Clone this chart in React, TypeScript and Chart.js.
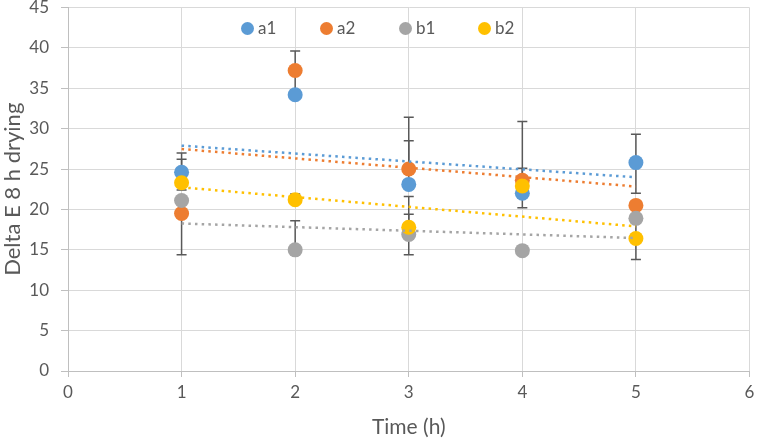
import React, { useEffect, useRef } from "react";
import { Chart, registerables } from "chart.js";

Chart.register(...registerables);

// ---- Data ----
const times = [1, 2, 3, 4, 5];
const seriesNames = ["a1", "a2", "b1", "b2"];
const a1 = [24.6, 34.2, 23.1, 22.0, 25.8];
const a2 = [19.5, 37.2, 25.0, 23.6, 20.5];
const b1 = [21.1, 15.0, 16.9, 14.9, 18.9];
const b2 = [23.3, 21.2, 17.8, 22.9, 16.4];
// error bar extents (plus / minus), 0 = not drawn / hidden
const a1Plus = [2.4, 0, 5.4, 0, 3.5];
const a1Minus = [2.2, 0, 0, 1.8, 3.8];
const a2Plus = [0, 2.4, 6.4, 7.3, 0];
const a2Minus = [5.1, 2.4, 0, 0, 0];
const b1Plus = [0, 3.6, 2.5, 0, 0];
const b1Minus = [0, 0, 0, 0, 0];
const b2Plus = [2.9, 0.7, 3.8, 2.2, 2.6];
const b2Minus = [0, 0, 3.4, 0, 2.6];
const seriesColors = ["#5B9BD5", "#ED7D31", "#A5A5A5", "#FFC000"];
const xTicks = [0, 1, 2, 3, 4, 5, 6];
const yTicks = [0, 5, 10, 15, 20, 25, 30, 35, 40, 45];
const xTitle = "Time (h)";
const yTitle = "Delta E 8 h drying";

const seriesValues = [a1, a2, b1, b2];
const seriesPlus = [a1Plus, a2Plus, b1Plus, b2Plus];
const seriesMinus = [a1Minus, a2Minus, b1Minus, b2Minus];

function trendPoints(xs: number[], ys: number[]) {
  const n = xs.length;
  const mx = xs.reduce((s, v) => s + v, 0) / n;
  const my = ys.reduce((s, v) => s + v, 0) / n;
  let sxy = 0, sxx = 0;
  for (let i = 0; i < n; i++) {
    sxy += (xs[i] - mx) * (ys[i] - my);
    sxx += (xs[i] - mx) * (xs[i] - mx);
  }
  const slope = sxy / sxx;
  const icpt = my - slope * mx;
  const x0 = Math.min(...xs), x1 = Math.max(...xs);
  return [
    { x: x0, y: icpt + slope * x0 },
    { x: x1, y: icpt + slope * x1 },
  ];
}

const errorBarPlugin = {
  id: "errorBars",
  beforeDatasetsDraw(chart: any) {
    const ctx = chart.ctx;
    const xs = chart.scales.x;
    const ys = chart.scales.y;
    ctx.save();
    ctx.strokeStyle = "#595959";
    ctx.lineWidth = 1.5;
    const cap = 5;
    chart.data.datasets.forEach((ds: any) => {
      if (!ds.errPlus) return;
      ds.data.forEach((p: any, i: number) => {
        const px = xs.getPixelForValue(p.x);
        const py = ys.getPixelForValue(p.y);
        const plus = ds.errPlus[i];
        const minus = ds.errMinus[i];
        if (plus > 0) {
          const t = ys.getPixelForValue(p.y + plus);
          ctx.beginPath();
          ctx.moveTo(px, py);
          ctx.lineTo(px, t);
          ctx.moveTo(px - cap, t);
          ctx.lineTo(px + cap, t);
          ctx.stroke();
        }
        if (minus > 0) {
          const b = ys.getPixelForValue(p.y - minus);
          ctx.beginPath();
          ctx.moveTo(px, py);
          ctx.lineTo(px, b);
          ctx.moveTo(px - cap, b);
          ctx.lineTo(px + cap, b);
          ctx.stroke();
        }
      });
    });
    ctx.restore();
  },
};

export default function App() {
  const canvasRef = useRef<HTMLCanvasElement | null>(null);

  useEffect(() => {
    if (!canvasRef.current) return;
    const scatterSets = seriesNames.map((name, s) => ({
      type: "scatter" as const,
      label: name,
      data: times.map((t, i) => ({ x: t, y: seriesValues[s][i] })),
      backgroundColor: seriesColors[s],
      borderColor: seriesColors[s],
      borderWidth: 0,
      pointRadius: 7.5,
      pointHoverRadius: 7.5,
      order: 10 - s,
      errPlus: seriesPlus[s],
      errMinus: seriesMinus[s],
    }));
    const trendSets = seriesNames.map((name, s) => ({
      type: "line" as const,
      label: name + " trend",
      data: trendPoints(times, seriesValues[s]),
      borderColor: seriesColors[s],
      borderWidth: 2.5,
      borderDash: [2.5, 4.2],
      pointRadius: 0,
      fill: false,
      order: 0,
    }));

    const chart = new Chart(canvasRef.current, {
      type: "scatter",
      data: { datasets: [...scatterSets, ...trendSets] as any },
      options: {
        animation: false,
        responsive: false,
        layout: { padding: 0 },
        plugins: {
          legend: { display: false },
          tooltip: { enabled: false },
        },
        scales: {
          x: {
            type: "linear",
            min: xTicks[0],
            max: xTicks[xTicks.length - 1],
            afterBuildTicks: (scale: any) => {
              scale.ticks = xTicks.map((v) => ({ value: v }));
            },
            afterFit: (scale: any) => {
              scale.height = 71;
              scale.paddingLeft = 0;
              scale.paddingRight = 5;
            },
            grid: { color: "#D9D9D9", lineWidth: 1, tickLength: 6, tickColor: "#BFBFBF" },
            border: { color: "#BFBFBF", width: 1 },
            ticks: { color: "#595959", font: { family: "Lato", size: 17 }, padding: 5 },
            title: {
              display: true,
              text: xTitle,
              color: "#595959",
              font: { family: "Lato", size: 21 },
              padding: { top: 2, bottom: 2 },
            },
          },
          y: {
            type: "linear",
            min: yTicks[0],
            max: yTicks[yTicks.length - 1],
            afterBuildTicks: (scale: any) => {
              scale.ticks = yTicks.map((v) => ({ value: v }));
            },
            afterFit: (scale: any) => {
              scale.width = 68;
              scale.paddingTop = 6;
              scale.paddingBottom = 0;
            },
            grid: { color: "#D9D9D9", lineWidth: 1, tickLength: 7, tickColor: "#BFBFBF" },
            border: { color: "#BFBFBF", width: 1 },
            ticks: { color: "#595959", font: { family: "Lato", size: 17 }, padding: 12 },
            title: {
              display: true,
              text: yTitle,
              color: "#595959",
              font: { family: "Lato", size: 22 },
              padding: { top: 0, bottom: 2 },
            },
          },
        },
      },
      plugins: [errorBarPlugin],
    });
    return () => chart.destroy();
  }, []);

  return (
    <div style={{ position: "fixed", left: 0, top: 0, width: 757, height: 442, background: "#fff" }}>
      <canvas ref={canvasRef} width={757} height={442} style={{ display: "block" }} />
      <div
        style={{
          position: "absolute",
          left: 241,
          top: 18,
          display: "flex",
          fontFamily: "Lato",
          fontSize: 17,
          color: "#595959",
          lineHeight: "20px",
        }}
      >
        {seriesNames.map((name, s) => (
          <div key={name} style={{ width: 79, display: "flex", alignItems: "center" }}>
            <span
              style={{
                display: "inline-block",
                width: 13,
                height: 13,
                borderRadius: 7,
                background: seriesColors[s],
                marginRight: 4,
              }}
            />
            <span>{name}</span>
          </div>
        ))}
      </div>
    </div>
  );
}
